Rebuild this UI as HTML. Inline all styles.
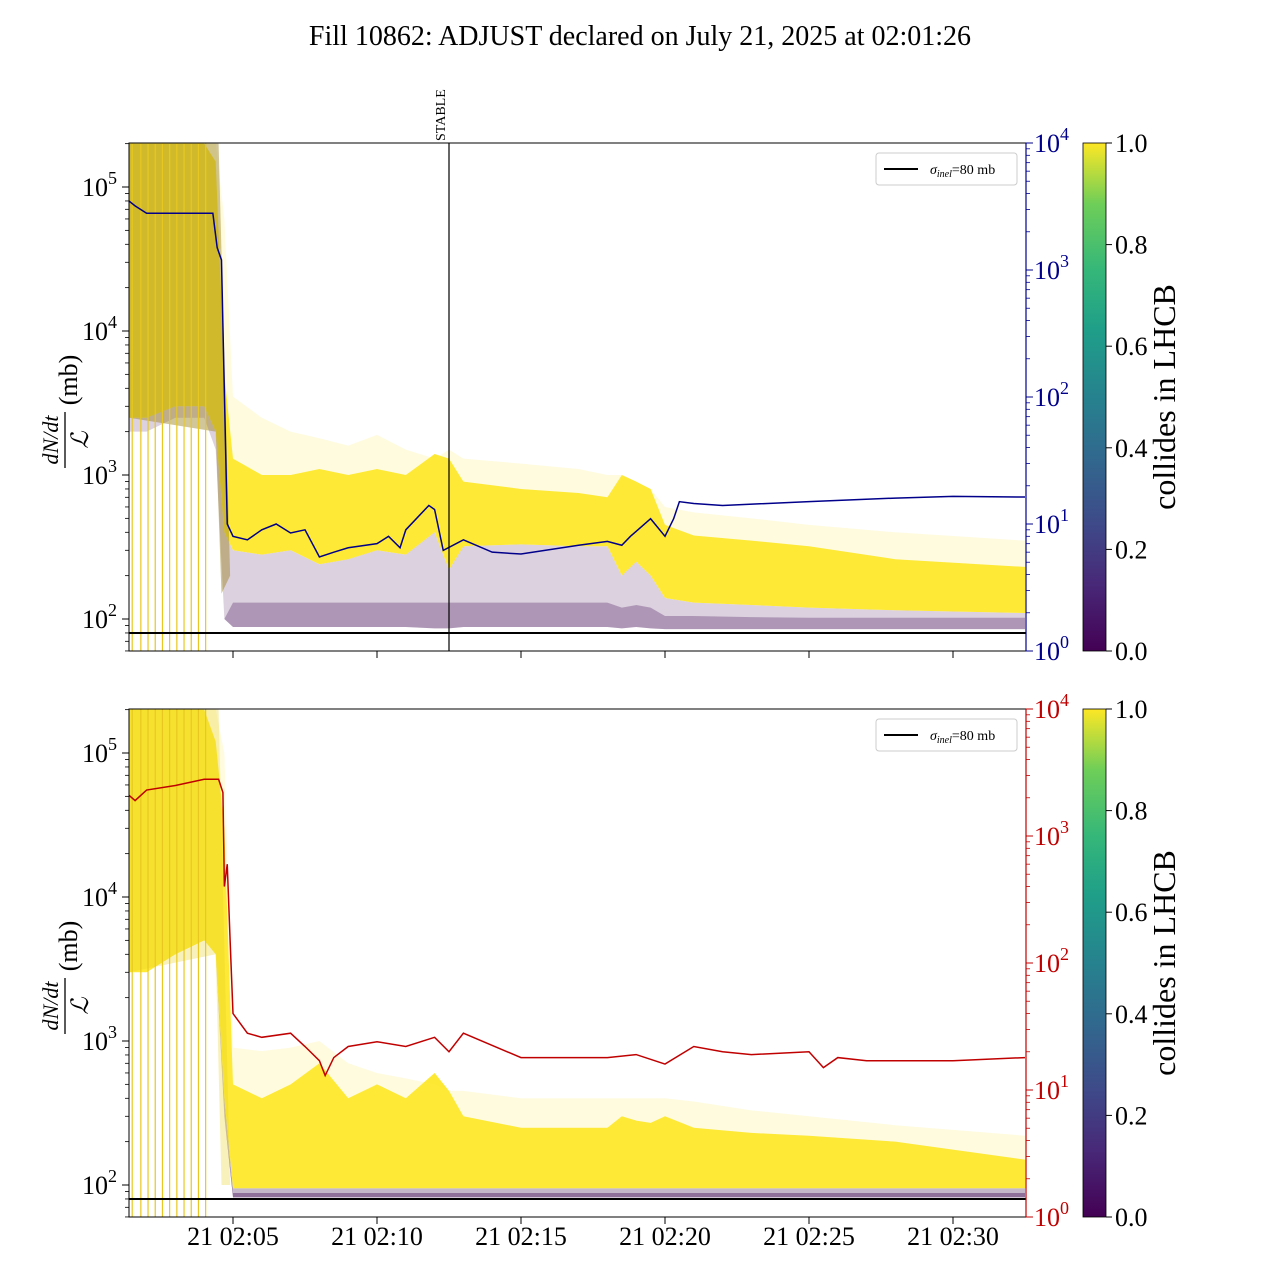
<!DOCTYPE html>
<html><head><meta charset="utf-8">
<style>
body{margin:0;background:#fff;}
svg text{font-family:"Liberation Serif",serif;}
</style></head>
<body>
<svg id="chart" width="1280" height="1280" xmlns="http://www.w3.org/2000/svg">
<defs>
<linearGradient id="viridis" x1="0" y1="1" x2="0" y2="0">
<stop offset="0" stop-color="#440154"/><stop offset="0.13" stop-color="#482878"/><stop offset="0.25" stop-color="#3e4a89"/><stop offset="0.38" stop-color="#31688e"/><stop offset="0.5" stop-color="#26828e"/><stop offset="0.63" stop-color="#1f9e89"/><stop offset="0.75" stop-color="#35b779"/><stop offset="0.88" stop-color="#6ece58"/><stop offset="1" stop-color="#fde725"/>
</linearGradient>
<clipPath id="clipTop"><rect x="129" y="143" width="897" height="508"/></clipPath>
<clipPath id="clipBot"><rect x="129" y="709" width="897" height="508"/></clipPath>
</defs>
<text x="640" y="45" font-size="28" text-anchor="middle">Fill 10862: ADJUST declared on July 21, 2025 at 02:01:26</text>
<g id="top"></g><g id="bot"></g>
</svg>
<script>
// time in minutes after 02:00
const bandT = [1.38,2,3,4,4.4,4.7,5,6,7,8,9,10,11,12,12.5,13,15,17,18,18.5,19,19.5,20,21,23,25,28,32.5];
const topDenseUp = [2e5,2e5,2e5,2e5,1.5e5,5000,1300,1000,1000,1100,1000,1100,1000,1400,1300,900,800,750,700,1000,900,800,450,380,350,320,260,230];
const topDenseLo = [2500,2500,3000,3000,2000,400,300,280,300,240,260,300,280,400,220,320,330,320,320,200,250,200,140,130,125,120,115,110];
const topFaintUp = [2e5,2e5,2e5,2e5,2e5,6e4,3500,2500,2000,1800,1600,1900,1500,1300,1500,1300,1200,1100,1000,1000,900,800,600,550,500,450,400,350];
const topPurpleLo = [2000,2000,2500,2500,1500,100,88,88,88,88,88,88,88,86,86,88,88,88,88,86,88,86,85,85,85,85,85,85];
const topDarkUp = [2000,2000,2500,2500,1500,100,130,130,130,130,130,130,130,130,130,130,130,130,130,120,125,120,105,105,103,102,102,102];
const botDenseUp = [2e5,2e5,2e5,2e5,1.2e5,3e4,500,400,500,700,400,500,400,600,450,300,250,250,250,300,280,270,300,250,230,220,200,150];
const botDenseLo = [3000,3000,4000,5000,4000,400,95,95,95,95,95,95,95,95,95,95,95,95,95,95,95,95,95,95,95,95,95,95];
const botFaintUp = [2e5,2e5,2e5,2e5,2e5,1e5,900,850,900,1000,700,600,550,500,450,450,400,400,400,400,400,400,400,380,330,300,260,220];
const botPurpleLo = [3000,3000,4000,5000,4000,300,82,82,82,82,82,82,82,82,82,82,82,82,82,82,82,82,82,82,82,82,82,82];
const botDarkUp = [3000,3000,4000,5000,4000,300,88,88,88,88,88,88,88,88,88,88,88,88,88,88,88,88,88,88,88,88,88,88];
const blueT = [1.38,1.6,2,3,4.3,4.45,4.6,4.8,5.0,5.5,6,6.5,7,7.5,8,8.5,9,10,10.4,10.8,11,11.8,12,12.3,13,14,15,17,18,18.5,18.8,19.5,20,20.3,20.5,21,22,25,28,30,32.5];
const blueV = [3500,3200,2800,2800,2800,1500,1200,10,8,7.5,9,10,8.5,9,5.5,6,6.5,7,8,6.5,9,14,13,6.2,7.5,6,5.8,6.8,7.3,6.8,8,11,8,11,15,14.5,14,15,16,16.5,16.3];
const redT = [1.38,1.6,2,3,4,4.5,4.65,4.7,4.8,4.9,5,5.5,6,7,7.5,8,8.2,8.5,9,10,11,12,12.5,13,15,18,19,20,21,22,23,25,25.5,26,27,30,32.5];
const redV = [2100,1900,2300,2500,2800,2800,2200,400,600,150,40,28,26,28,22,17,13,18,22,24,22,26,20,28,18,18,19,16,22,20,19,20,15,18,17,17,18];
const yTicksL = [100,1000,10000,100000];
const yTickLblExp = ["2","3","4","5"];
const rTicks = [1,10,100,1000,10000];
const rTickExp = ["0","1","2","3","4"];
const xTickMin = [5,10,15,20,25,30];
const xTickLbl = ["21 02:05","21 02:10","21 02:15","21 02:20","21 02:25","21 02:30"];
const cbTicks = ["0.0","0.2","0.4","0.6","0.8","1.0"];
const stableT = 12.5, sigma = 80;

const NS="http://www.w3.org/2000/svg";
const X0=129,X1=1026;
const xs = t => 233 + (t-5)*28.8;
function mk(p,tag,attrs,txt){const e=document.createElementNS(NS,tag);for(const k in attrs)e.setAttribute(k,attrs[k]);if(txt!==undefined)e.textContent=txt;p.appendChild(e);return e;}

function panel(g, top, denseUp, denseLo, faintUp, purpleLo, darkUp, lineT, lineV, lineColor, clip, isTop){
  const bot = top+508;
  const y5 = top+44;
  const ly = v => y5 - (Math.log10(v)-5)*144;
  const ry = v => bot - Math.log10(v)*127;
  const cg = mk(g,'g',{'clip-path':`url(#${clip})`});
  const poly=(up,lo,fill,op,name)=>{
    let d='M'+bandT.map((t,i)=>xs(t)+','+ly(up[i])).join('L');
    for(let i=bandT.length-1;i>=0;i--) d+='L'+xs(bandT[i])+','+ly(lo[i]);
    const p=mk(cg,'path',{d:d+'Z',fill:fill,'fill-opacity':op});
    
    
  };
  poly(faintUp,denseUp,'#fde725',0.15,'faint-yellow-band');
  poly(denseLo,purpleLo,isTop?'#9a7aa0':'#6a4a78',isTop?0.35:0.4,'purple-band');
  poly(darkUp,purpleLo,'#5a2a6e',isTop?0.35:0.5,'dark-purple-band');
  poly(denseUp,denseLo,'#fde725',0.92,'dense-yellow-band');
  const early=mk(cg,'path',{d:`M${xs(1.38)},${ly(2e5)}L${xs(4.5)},${ly(2e5)}L${xs(4.9)},${ly(isTop?200:100)}L${xs(4.6)},${ly(isTop?150:100)}L${xs(4.4)},${ly(isTop?2000:4000)}L${xs(1.38)},${ly(isTop?2500:3000)}Z`,fill:isTop?'#9a8020':'#e8d020','fill-opacity':isTop?0.45:0.3});
  
  
  [1.5,1.8,2.05,2.3,2.55,2.8,3.05,3.3,3.55,3.8,4.05].forEach(t=>{
    const l=mk(cg,'line',{x1:xs(t),x2:xs(t),y1:top,y2:bot,stroke:'#e8c820','stroke-width':1.2});
    
    
  });
  const sl=mk(g,'line',{x1:X0,x2:X1,y1:ly(sigma),y2:ly(sigma),stroke:'#000','stroke-width':2});
  
  
  const lp=mk(cg,'path',{d:'M'+lineT.map((t,i)=>xs(t)+','+ry(lineV[i])).join('L'),fill:'none',stroke:lineColor,'stroke-width':1.5});
  
  
  if(isTop){
    const s=mk(g,'line',{x1:xs(stableT),x2:xs(stableT),y1:top,y2:bot,stroke:'#000','stroke-width':1.2});
    
    
    const st=mk(g,'text',{x:0,y:0,'font-size':14,transform:`translate(${xs(stableT)-4},${top-2}) rotate(-90)`},'STABLE');
    
    
  }
  const fr=mk(g,'rect',{x:X0,y:top,width:X1-X0,height:508,fill:'none',stroke:'#000','stroke-width':1});
  
  
  mk(g,'line',{x1:X1,x2:X1,y1:top,y2:bot,stroke:lineColor,'stroke-width':1.2});
  yTicksL.forEach((v,i)=>{
    const y=ly(v);
    mk(g,'line',{x1:X0-7,x2:X0,y1:y,y2:y,stroke:'#000'});
    const t=mk(g,'text',{x:X0-12,y:y+9,'font-size':26,'text-anchor':'end'});
    
    
    t.innerHTML='10<tspan dy="-12" font-size="18">'+yTickLblExp[i]+'</tspan>';
  });
  for(let d=1;d<6;d++)for(let m=2;m<10;m++){const v=m*Math.pow(10,d);const y=ly(v);if(y>top&&y<bot)mk(g,'line',{x1:X0-4,x2:X0,y1:y,y2:y,stroke:'#000','stroke-width':0.8});}
  rTicks.forEach((v,i)=>{
    const y=ry(v);
    mk(g,'line',{x1:X1,x2:X1+7,y1:y,y2:y,stroke:lineColor});
    const t=mk(g,'text',{x:X1+8,y:y+9,'font-size':26,fill:lineColor});
    
    
    t.innerHTML='10<tspan dy="-12" font-size="18">'+rTickExp[i]+'</tspan>';
  });
  for(let d=0;d<4;d++)for(let m=2;m<10;m++){const y=ry(m*Math.pow(10,d));mk(g,'line',{x1:X1,x2:X1+4,y1:y,y2:y,stroke:lineColor,'stroke-width':0.8});}
  xTickMin.forEach((t,i)=>{
    mk(g,'line',{x1:xs(t),x2:xs(t),y1:bot,y2:bot+7,stroke:'#000'});
    if(!isTop){const tl=mk(g,'text',{x:xs(t),y:bot+28,'font-size':26,'text-anchor':'middle'},xTickLbl[i]);
      
      }
  });
  const yl=mk(g,'g',{transform:`translate(68,${top+267}) rotate(-90)`});
  
  
  mk(yl,'text',{x:-30,y:-10,'font-size':22,'font-style':'italic','text-anchor':'middle'},'dN/dt');
  mk(yl,'line',{x1:-58,x2:-2,y1:-3,y2:-3,stroke:'#000','stroke-width':1.3});
  mk(yl,'text',{x:-30,y:20,'font-size':24,'font-style':'italic','text-anchor':'middle'},'ℒ');
  mk(yl,'text',{x:30,y:9,'font-size':26,'text-anchor':'middle'},'(mb)');
  const lg=mk(g,'g',{});
  
  
  mk(lg,'rect',{x:876,y:top+10,width:141,height:32,rx:3,fill:'#fff',stroke:'#ccc'});
  mk(lg,'line',{x1:884,x2:918,y1:top+26,y2:top+26,stroke:'#000','stroke-width':2});
  mk(lg,'text',{x:930,y:top+31,'font-size':14}).innerHTML='<tspan font-style="italic">σ</tspan><tspan font-size="10" dy="3" font-style="italic">inel</tspan><tspan dy="-3">=80 mb</tspan>';
  const cb=mk(g,'rect',{x:1083,y:top,width:23,height:508,fill:'url(#viridis)',stroke:'#000','stroke-width':0.8});
  
  
  cbTicks.forEach((s,i)=>{const y=bot-i*508/5;mk(g,'line',{x1:1106,x2:1112,y1:y,y2:y,stroke:'#000'});
    const t=mk(g,'text',{x:1115,y:y+9,'font-size':26},s);});
  const cbl=mk(g,'text',{x:0,y:0,'font-size':32,'text-anchor':'middle',transform:`translate(1175,${top+254}) rotate(-90)`},'collides in LHCB');
  
  
}
const gt=document.getElementById('top'), gb=document.getElementById('bot');
 
 
panel(gt,143,topDenseUp,topDenseLo,topFaintUp,topPurpleLo,topDarkUp,blueT,blueV,'#00008b','clipTop',true);
panel(gb,709,botDenseUp,botDenseLo,botFaintUp,botPurpleLo,botDarkUp,redT,redV,'#c00000','clipBot',false);
</script>
</body></html>
